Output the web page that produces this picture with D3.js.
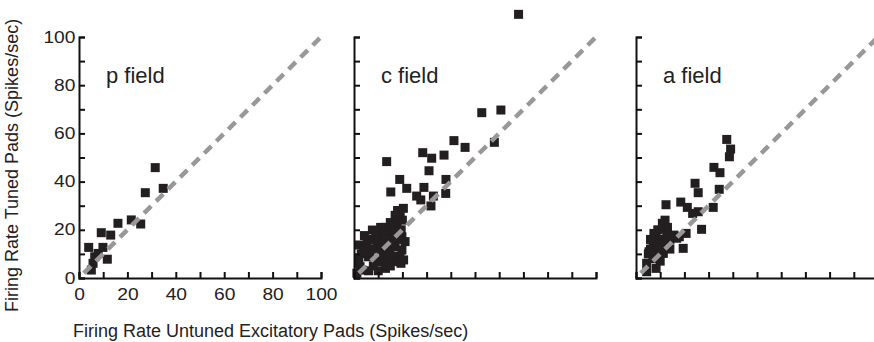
<html>
<head>
<meta charset="UTF-8"/>
<script src="https://d3js.org/d3.v7.min.js"></script>
<style>
body { margin: 0; background: #fff; }
svg text { font-family: "Liberation Sans", Arial, Helvetica, sans-serif; fill: #222; }
.diag { stroke: #989898; stroke-width: 4.5; stroke-dasharray: 10 7; fill: none; }
</style>
</head>
<body>
<svg id='fig' width=874 height=342></svg>
<script>
'use strict';

// firing rate untuned (x) vs tuned (y), spikes/sec
var pField = [[4,12.7],[5.1,3.3],[5.8,6.1],[6.5,8.8],[7.9,10.2],[9.2,18.8],[9.9,12.7],
	[11.7,7.8],[13.1,17.8],[16.1,22.7],[21.6,24.1],[25.5,22.4],[27.4,35.4],[31.5,45.8],[34.8,37.2]];

var cField = [[68,109.4],[52.8,68.6],[60.7,69.7],[58,56.3],[41.3,57],[45.9,54.2],
	[13.5,48.3],[28.4,52],[32.1,49.7],[37.2,51],[31,44.5],
	[18.9,40.9],[15.2,35.7],[21.8,37.2],[28.9,37.6],[38,40.9],[37.9,35.1],
	[25.9,34],[27.6,32.4],[32.8,34],[20.4,28.9],[31.8,29.9],
	[19.1,25.4],[17.8,23.4],[16.4,21.3],[19.5,20],[14,19],[12.1,18.5],
	[4.3,17.6],[7.6,19.9],[10,16],[15,16],[19.8,17.1],[21.1,15.1],
	[1.9,13.7],[5.4,15],[9.4,14],[13,13],[17,13],[3.9,12.3],
	[14.9,11.6],[19.8,11.6],[19,9.1],[1.9,8.2],[6,8.8],[9.4,7],[11.4,6.8],
	[17.1,6.8],[20.5,7.5],[6.6,9.5],[19.4,6.1],[3.3,3.3],[2.5,4.7],[1.2,2],
	[8,5],[12,10],[16,9],[3,10],[5,12],[8,12],[11,12],[12,15],[16,14],[18,16],
	[7,16],[9,18],[13,21],[15,23],[17,26],[18,28],[20,24],[14,8],[10,3],[13,4],
	[2,6],[6,3],[15,5],[11,21],[17,19]];

var aField = [[37.5,57.5],[39.1,53.5],[38.6,50.3],[32.2,45.9],[34.7,43.7],[24.4,39.3],
	[25.7,35.4],[34.4,36.8],[12.4,30.4],[18.5,31.5],[21.2,29.3],[25.7,27.5],[23.4,26.8],
	[31.9,29.3],[27.1,20.2],[20.7,18.5],[17.9,17.1],[19.5,12.3],[11.3,20.6],[10.9,22.7],
	[8.3,16.9],[12.7,17.8],[7.1,14.4],[10.6,13],[5.1,10],[8.5,8.8],[11.3,10.2],[4.4,6.1],
	[8.3,4],[4.4,2.6],[14,15.8],[16.8,16.5],[7.4,18.5],[5.4,10.9],[12.9,15.8],[15.7,17.8],
	[10.2,13.7],[9,20],[13,19],[6,12],[9,15],[11,16],[13,21],[7,8],[10,7],[6,16],
	[14,12],[12,24],[9,11]];

var fieldNames = ['p field', 'c field', 'a field'];
var fields = [pField, cField, aField];

var tickValues = [0,10,20,30,40,50,60,70,80,90,100];
var tickLabels = [0,20,40,60,80,100];
var diagonal = [2, 100];

var svg = d3.select('#fig');

var panelLeft = [79, 354, 636];
var panelW = 242;
var yTop = 37, yBottom = 278;
var sq = 9;

function styleAxis(sel){
	sel.selectAll('path, line')
		.attr('stroke', '#111')
		.attr('stroke-width', 2);
	sel.selectAll('text')
		.attr('font-size', 16)
		.attr('fill', '#222')
		.attr('transform', 'scale(1.2,1)');
}

fields.forEach(function(data, i){
	var sx = d3.scaleLinear().domain([0,100]).range([panelLeft[i], panelLeft[i] + panelW]);
	var sy = d3.scaleLinear().domain([0,100]).range([yBottom, yTop]);
	var g = svg.append('g');

	var fmt = function(d){ return (i == 0 && tickLabels.indexOf(d) >= 0) ? d : ''; };

	g.selectAll('rect.pt')
		.data(data)
		.enter()
		.append('rect')
		.attr('class', 'pt')
		.attr('x', function(d){ return sx(d[0]) - sq/2; })
		.attr('y', function(d){ return sy(d[1]) - sq/2; })
		.attr('width', sq)
		.attr('height', sq)
		.attr('fill', '#231f20');

	g.append('g')
		.attr('transform', 'translate(0,' + yBottom + ')')
		.call(d3.axisBottom(sx).tickValues(tickValues).tickSize(-6).tickPadding(11).tickFormat(fmt))
		.call(styleAxis);

	g.append('g')
		.attr('transform', 'translate(' + panelLeft[i] + ',0)')
		.call(d3.axisLeft(sy).tickValues(tickValues).tickSize(-6).tickPadding(3).tickFormat(fmt))
		.call(styleAxis);

	g.append('line')
		.attr('class', 'diag')
		.attr('x1', sx(diagonal[0]))
		.attr('y1', sy(diagonal[0]))
		.attr('x2', sx(diagonal[1]))
		.attr('y2', sy(diagonal[1]));

	g.append('text')
		.attr('x', panelLeft[i] + 27)
		.attr('y', 83)
		.attr('font-size', 22)
		.text(fieldNames[i]);
});

svg.append('text')
	.attr('x', 73)
	.attr('y', 337)
	.attr('font-size', 18)
	.text('Firing Rate Untuned Excitatory Pads (Spikes/sec)');

svg.append('text')
	.attr('transform', 'translate(18,312) rotate(-90)')
	.attr('font-size', 18)
	.text('Firing Rate Tuned Pads (Spikes/sec)');
</script>
</body>
</html>
